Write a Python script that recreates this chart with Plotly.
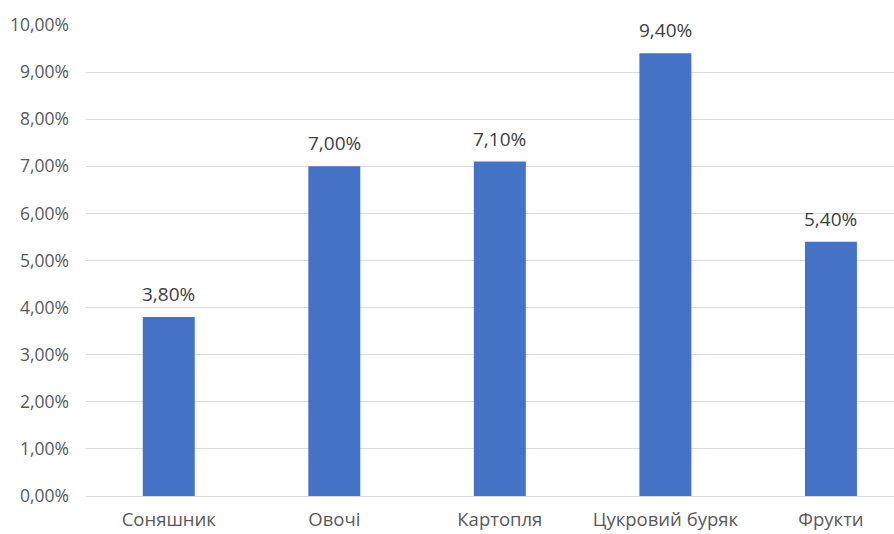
import plotly.graph_objects as go

categories = ["Соняшник", "Овочі", "Картопля", "Цукровий буряк", "Фрукти"]
values = [3.80, 7.00, 7.10, 9.40, 5.40]
y_ticks = [0, 1, 2, 3, 4, 5, 6, 7, 8, 9, 10]
y_tick_labels = [f"{v:.2f}%".replace(".", ",") for v in y_ticks]
value_labels = [f"{v:.2f}%".replace(".", ",") for v in values]

font_family = "Open Sans, Noto Sans, DejaVu Sans, sans-serif"

fig = go.Figure(
    go.Bar(
        x=list(range(len(categories))),
        y=values,
        width=0.314,
        marker=dict(color="#4472C4", line=dict(width=0)),
        hoverinfo="skip",
    )
)

for i, (v, lab) in enumerate(zip(values, value_labels)):
    fig.add_annotation(
        x=i, y=v, xref="x", yref="y",
        text=lab, showarrow=False,
        yanchor="bottom", yshift=8,
        font=dict(size=19, color="#404040", family=font_family),
    )

fig.update_layout(
    width=894,
    height=534,
    margin=dict(l=86, r=0, t=25, b=38, autoexpand=False),
    plot_bgcolor="white",
    paper_bgcolor="white",
    showlegend=False,
    font=dict(family=font_family),
    xaxis=dict(
        range=[-0.5, 4.381],
        tickmode="array",
        tickvals=list(range(len(categories))),
        ticktext=categories,
        tickfont=dict(size=18.5, color="#595959"),
        showgrid=False,
        zeroline=False,
        showline=False,
        ticks="",
        ticklabelstandoff=10,
        automargin=False,
    ),
    yaxis=dict(
        range=[0, 10],
        tickmode="array",
        tickvals=y_ticks,
        ticktext=y_tick_labels,
        tickfont=dict(size=17.5, color="#595959"),
        showgrid=True,
        gridcolor="#D9D9D9",
        gridwidth=1,
        zeroline=True,
        zerolinecolor="#D9D9D9",
        zerolinewidth=1,
        showline=False,
        ticks="",
        ticklabelstandoff=16,
        automargin=False,
    ),
)

fig.write_html("out.html")
